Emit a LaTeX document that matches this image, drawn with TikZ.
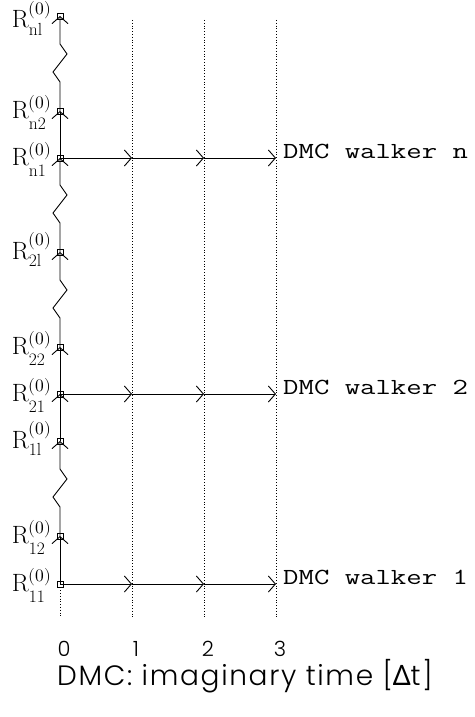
\documentclass[tikz,border=0pt]{standalone}
\usepackage{fontspec}
\usepackage{unicode-math}
\usetikzlibrary{arrows.meta,positioning}
\newfontfamily\walkerfont{Latin Modern Mono}[FakeStretch=1.3]
\IfFontExistsTF{Poppins Light}{\newfontfamily\axisfont{Poppins Light}[LetterSpace=6]}{\newfontfamily\axisfont{Poppins}[LetterSpace=6]}
\newfontfamily\deltafont{Noto Sans}
\newcommand\cfg[1]{$\mathrm{R}^{(0)}_{\raisebox{-5pt}{$\scriptstyle\mathrm{#1}$}}$}
\tikzset{
  site/.style={draw,rectangle,minimum size=6pt,inner sep=0pt,line width=0.7pt},
  rlabel/.style={anchor=base east,inner sep=0pt,font=\fontsize{25}{30}\selectfont},
  walk/.style={line width=0.9pt,-{Straight Barb[length=7pt,width=16pt]}},
  timeline/.style={line width=0.8pt,dash pattern=on 0.8pt off 2pt},
  walker/.style={anchor=base west,inner sep=0pt,font=\walkerfont\fontsize{23}{28}\selectfont},
  tick/.style={inner sep=0pt,font=\axisfont\fontsize{21}{24}\selectfont},
  axis title/.style={anchor=base west,inner sep=0pt,font=\axisfont\fontsize{28}{32}\selectfont},
  zigzag route/.style={to path={-- ++(0,-29) -- ++(-7,-10) -- ++(14,-18) -- ++(-7,-10) -- (\tikztotarget)}}
}
\begin{document}
\begin{tikzpicture}[x=1pt,y=-1pt]
  \useasboundingbox (0,0) rectangle (474,717);
  % imaginary time steps
  \foreach \t/\x in {1/132,2/204,3/276}
    \draw[timeline] (\x,20) -- (\x,617);
  % configurations R^(0)
  \foreach \n/\s/\y/\d in {r11/11/584/7,r12/12/536/7,r1l/1l/441/7,r21/21/394/7,r22/22/347/7,r2l/2l/252/7,rn1/n1/158/7,rn2/n2/111/7,rnl/nl/16/12} {
    \node[site] (\n) at (60,\y) {};
    \node[rlabel] (\n-lab) at ([xshift=-8pt,yshift=-\d pt]\n.center) {\cfg{\s}};
  }
  \coordinate (t0) at (60,617);
  \draw[timeline] (r11.south) -- (t0);
  % path through the configurations
  \draw[walk] (r11.center) -- (r12.center);
  \draw[walk] (r12.center) to[zigzag route] (r1l.center);
  \draw[walk] (r1l.center) -- (r21.center);
  \draw[walk] (r21.center) -- (r22.center);
  \draw[walk] (r22.center) to[zigzag route] (r2l.center);
  \draw[walk] (r2l.center) to[zigzag route] (rn1.center);
  \draw[walk] (rn1.center) -- (rn2.center);
  \draw[walk] (rn2.center) to[zigzag route] (rnl.center);
  % DMC walkers
  \foreach \s/\w in {n1/n,21/2,11/1} {
    \path (r\s.center) ++(72,0) coordinate (w\w-1) ++(72,0) coordinate (w\w-2) ++(72,0) coordinate (w\w-3);
    \draw[walk] (r\s.center) -- (w\w-1);
    \draw[walk] (w\w-1) -- (w\w-2);
    \draw[walk] (w\w-2) -- (w\w-3);
    \node[walker] (walker\w) at ([xshift=7pt]w\w-3) {DMC walker \w};
  }
  % time axis
  \foreach \t/\x in {0/64,1/136,2/208,3/280}
    \node[tick] (tick\t) at (\x,649) {\t};
  \node[axis title] (title) at (57,685) {DMC: imaginary time [{\deltafont Δ}t]};
\end{tikzpicture}
\end{document}
